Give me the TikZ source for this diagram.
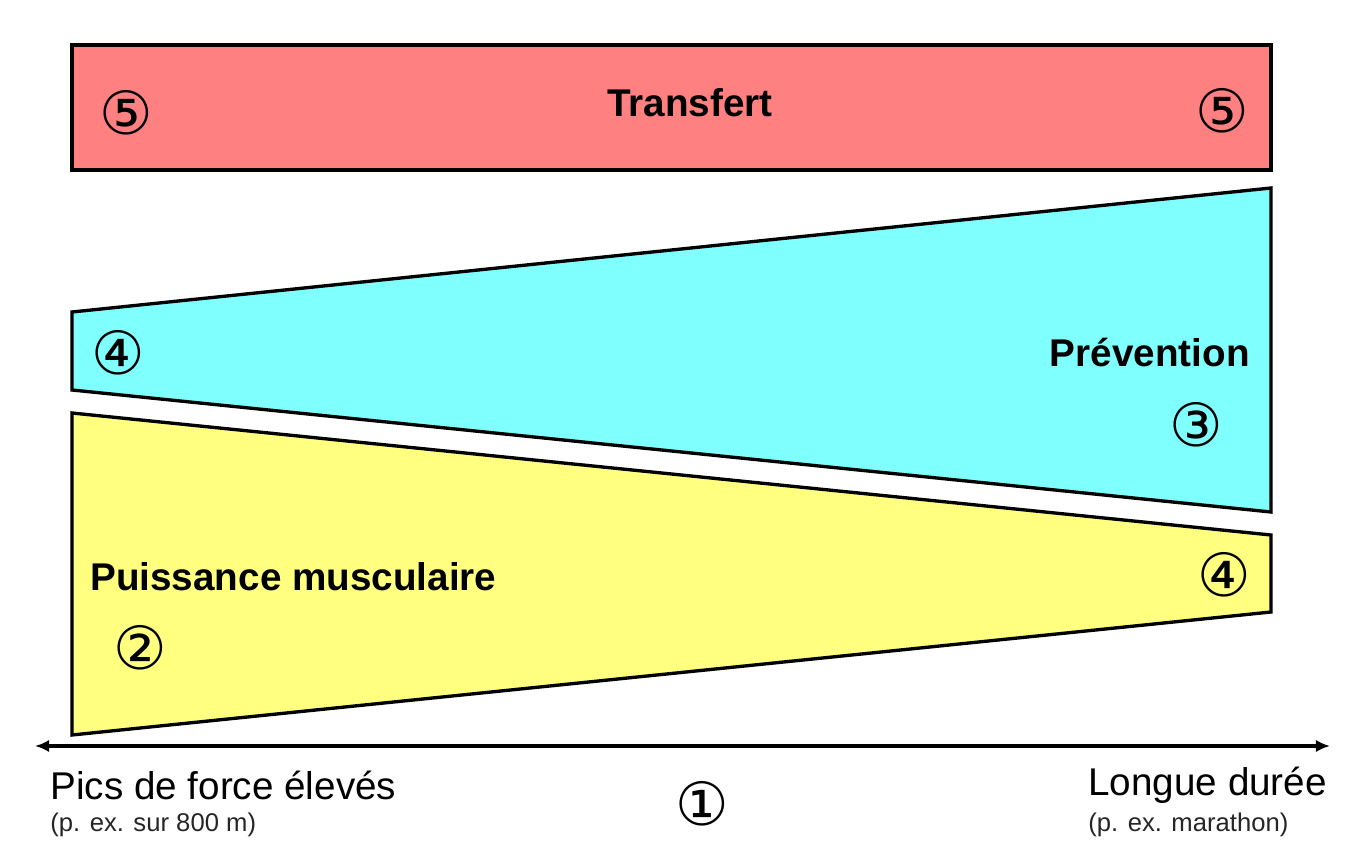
\documentclass[tikz,border=0pt]{standalone}
\usepackage{fontspec}
\setmainfont{Liberation Sans}
\newfontfamily\circfont{DejaVu Sans}
\usetikzlibrary{positioning,arrows.meta}

\definecolor{zonered}{HTML}{FF8080}
\definecolor{zonecyan}{HTML}{80FFFF}
\definecolor{zoneyellow}{HTML}{FFFF80}

\tikzset{
  zone/.style={draw=black,line width=1.9pt,line join=miter},
  circnum/.style={font=\circfont\fontsize{34}{34}\selectfont,inner sep=0pt},
  zonelabel/.style={font=\bfseries\fontsize{22}{26}\selectfont,inner sep=0pt},
  axislabel/.style={font=\fontsize{22}{26}\selectfont,inner sep=0pt,anchor=west},
  axisnote/.style={font=\fontsize{14.6}{18}\selectfont,inner sep=0pt,anchor=west,text=black!85},
}

\begin{document}
\begin{tikzpicture}[x=0.02cm,y=-0.02cm]
\useasboundingbox[fill=white] (0,0) rectangle (1360,861);

% Zones
\draw[zone,fill=zonered] (72,45) rectangle (1271,170);
\draw[zone,fill=zonecyan] (72,312) -- (1271,188) -- (1271,512) -- (72,390) -- cycle;
\draw[zone,fill=zoneyellow] (72,413) -- (1271,535) -- (1271,612) -- (72,735) -- cycle;

% Axis
\coordinate (left) at (35,746);
\coordinate (right) at (1330,746);
\draw[line width=1.8pt,{Latex[length=8pt,width=7pt]}-{Latex[length=8pt,width=7pt]}] (left) -- (right);

% Nodes
\node[zonelabel] (transfert) at (690,103) {Transfert};
\node[circnum] (t5a) at (126,113) {⑤};
\node[circnum] (t5b) at (1222,111) {⑤};

\node[zonelabel,anchor=east] (prevention) at (1250,353) {Prévention};
\node[circnum] (p4) at (118,353) {④};
\node[circnum] (p3) at (1196,425) {③};

\node[zonelabel,anchor=west] (puissance) at (90,577) {Puissance musculaire};
\node[circnum] (m2) at (140,648) {②};
\node[circnum] (m4) at (1224,575) {④};

\node[axislabel] (pics) at (50,785) {Pics de force élevés};
\node[axisnote] (picsnote) at (50,825) {(p. ex. sur 800 m)};
\node[circnum] (axis1) at (702,804) {①};
\node[axislabel] (longue) at (1088,785) {Longue durée};
\node[axisnote] (longuenote) at (1088,825) {(p. ex. marathon)};

\end{tikzpicture}
\end{document}
